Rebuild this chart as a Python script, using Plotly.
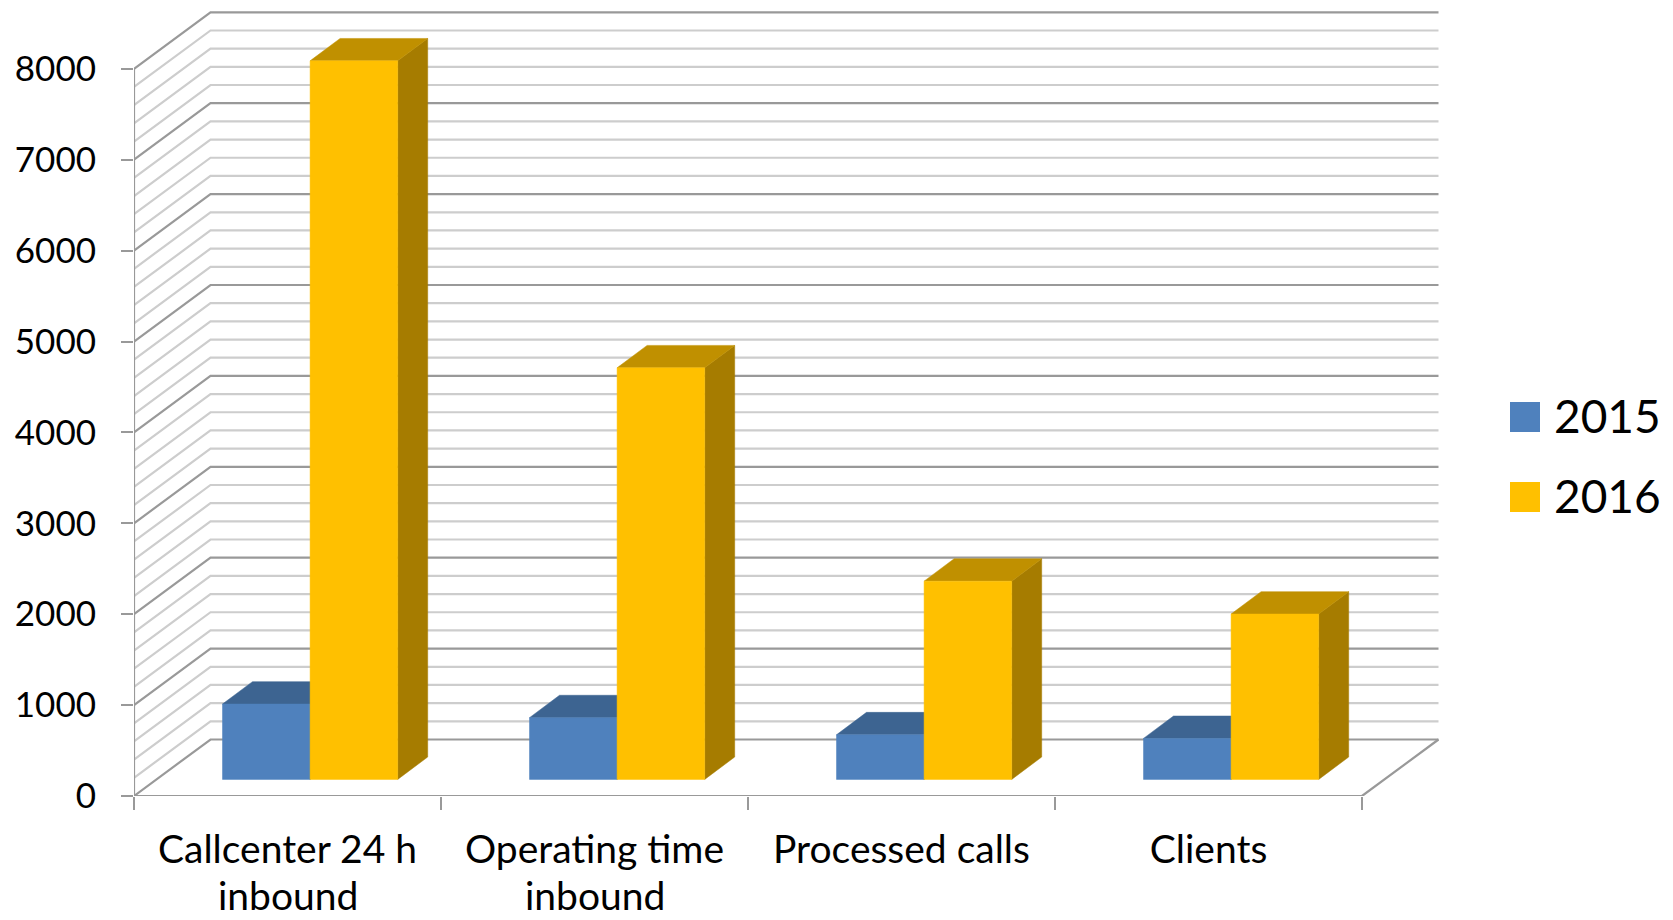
import plotly.graph_objects as go

# ---- data ----
categories = ["Callcenter 24 h", "Operating time", "Processed calls", "Clients"]
second_line = ["inbound", "inbound", "", ""]
series_names = ["2015", "2016"]
values_2015 = [829, 679, 491, 451]
values_2016 = [7905, 4528, 2181, 1819]
y_ticks = [0, 1000, 2000, 3000, 4000, 5000, 6000, 7000, 8000]

# ---- style / projection ----
W, H = 1673, 920
LEFT, ZERO_Y = 134, 796
CAT_PX, UNIT_PX = 307.0, 0.0909
WALL_DX, WALL_DY = 76.5 / CAT_PX, 56.5 / UNIT_PX
BAR_W, BAR_DX, BAR_DY = 87.6 / CAT_PX, 30 / CAT_PX, 22.4 / UNIT_PX
BAR_BASE, GROUP_SHIFT = 16.6 / UNIT_PX, 22.6 / CAT_PX
FONT = "Lato"
Y_FONT_SIZE = 35
X_FONT_SIZE = 39
LEGEND_FONT_SIZE = 46
MAJOR, MINOR = "#999999", "#CDCDCD"
COLORS = {
    "2015": dict(front="#4F81BD", top="#3D6491", side="#3A5F8A"),
    "2016": dict(front="#FFC000", top="#C09000", side="#A67C00"),
}

n = len(categories)
fig = go.Figure()


def line(xs, ys, color, width):
    fig.add_trace(go.Scatter(x=xs, y=ys, mode="lines", line=dict(color=color, width=width),
                             hoverinfo="skip", showlegend=False))


def poly(xs, ys, color):
    fig.add_trace(go.Scatter(x=xs, y=ys, mode="lines", fill="toself", fillcolor=color,
                             line=dict(color=color, width=0.5), hoverinfo="skip", showlegend=False))


def wall(levels):
    xs, ys = [], []
    for v in levels:
        xs += [0, WALL_DX, n + WALL_DX, None]
        ys += [v, v + WALL_DY, v + WALL_DY, None]
    return xs, ys


minor_levels = [v for v in range(200, 8000, 200) if v % 1000]
xs, ys = wall(minor_levels)
line(xs, ys, MINOR, 2.2)
xs, ys = wall(y_ticks)
line(xs, ys, MAJOR, 2.2)
line([0, 0], [0, y_ticks[-1]], MAJOR, 2.2)
line([0, n, n + WALL_DX], [0, 0, WALL_DY], MAJOR, 2.2)

for i in range(n):
    center = i + 0.5 + GROUP_SHIFT
    for s, (name, vals) in enumerate(zip(series_names, [values_2015, values_2016])):
        v = vals[i]
        x0 = center + (s - 1) * BAR_W
        x1 = x0 + BAR_W
        b, t = BAR_BASE, BAR_BASE + v
        c = COLORS[name]
        poly([x1, x1 + BAR_DX, x1 + BAR_DX, x1, x1], [b, b + BAR_DY, t + BAR_DY, t, b], c["side"])
        poly([x0, x0 + BAR_DX, x1 + BAR_DX, x1, x0], [t, t + BAR_DY, t + BAR_DY, t, t], c["top"])
        poly([x0, x1, x1, x0, x0], [b, b, t, t, b], c["front"])

annotations = []
for i, txt in enumerate(second_line):
    if txt:
        annotations.append(dict(x=i + 0.5, xref="x", y=(ZERO_Y - 894.5) / ZERO_Y, yref="paper",
                                yanchor="middle", xanchor="center", text=txt, showarrow=False,
                                font=dict(family=FONT, size=X_FONT_SIZE, color="black")))
# legend entries
shapes = []
for j, name in enumerate(series_names):
    top = 402 + j * 80
    shapes.append(dict(type="rect", xref="paper", yref="paper", layer="above",
                       x0=(1510 - LEFT) / (W - LEFT), x1=(1540 - LEFT) / (W - LEFT),
                       y0=(ZERO_Y - top - 30) / ZERO_Y, y1=(ZERO_Y - top) / ZERO_Y,
                       fillcolor=COLORS[name]["front"], line=dict(width=0)))
    annotations.append(dict(x=(1552 - LEFT) / (W - LEFT), xref="paper", xanchor="left",
                            y=(ZERO_Y - top - 13) / ZERO_Y, yref="paper", yanchor="middle",
                            text=name, showarrow=False,
                            font=dict(family=FONT, size=LEGEND_FONT_SIZE, color="black")))

fig.update_layout(
    width=W, height=H, showlegend=False, plot_bgcolor="white", paper_bgcolor="white",
    margin=dict(l=LEFT, r=0, t=0, b=H - ZERO_Y, pad=0),
    font=dict(family=FONT, size=Y_FONT_SIZE, color="black"),
    annotations=annotations, shapes=shapes,
    xaxis=dict(range=[0, (W - LEFT) / CAT_PX], tickmode="array",
               tickvals=[i + 0.5 for i in range(n)], ticktext=categories,
               tickfont=dict(family=FONT, size=X_FONT_SIZE, color="black"),
               ticks="", showgrid=False, zeroline=False, showline=False,
               ticklabelstandoff=27, tickangle=0,
               minor=dict(tickmode="array", tickvals=list(range(n + 1)), ticks="outside",
                          ticklen=13, tickwidth=2, tickcolor=MAJOR, showgrid=False)),
    yaxis=dict(range=[0, ZERO_Y / UNIT_PX], tickmode="array", tickvals=y_ticks,
               ticktext=[str(v) for v in y_ticks], ticks="outside", ticklen=12, tickwidth=2,
               tickcolor=MAJOR, showgrid=False, zeroline=False, showline=False,
               tickfont=dict(family=FONT, size=Y_FONT_SIZE, color="black"),
               ticklabelstandoff=18),
)

fig.write_html("out.html", config=dict(displayModeBar=False),
               post_script="document.body.style.margin='0';")
